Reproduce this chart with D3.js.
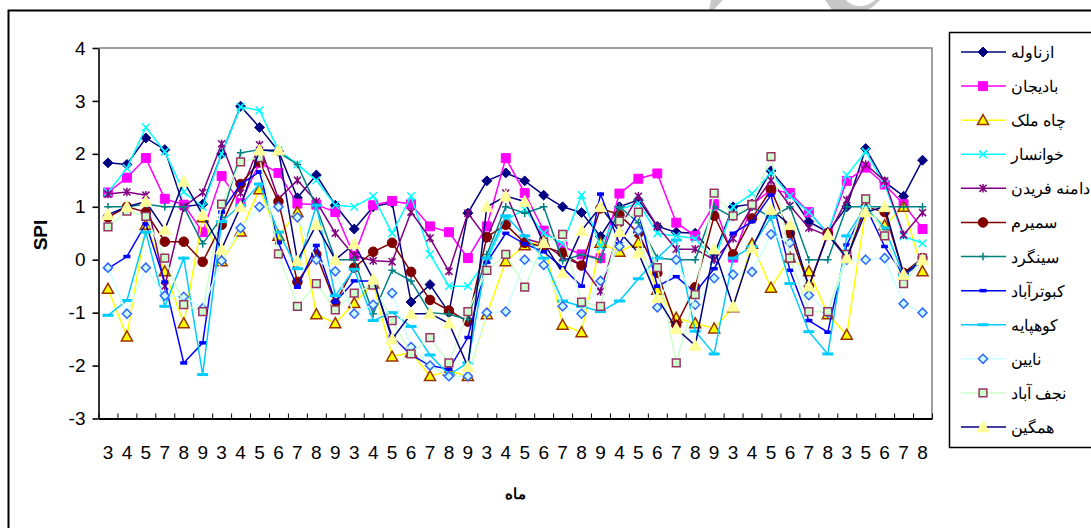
<!DOCTYPE html>
<html>
<head>
<meta charset="utf-8">
<script src="https://cdn.jsdelivr.net/npm/d3@7"></script>
<style>
  html, body { margin: 0; padding: 0; background: #fff; overflow: hidden; }
  text { font-family: "Liberation Sans", Arial, sans-serif; fill: #000; }
</style>
</head>
<body>
<div id="chart"></div>
<script>
// Tick labels (month numbers)
var months = [3,4,5,7,8,9,3,4,5,6,7,8,9,3,4,5,6,7,8,9,3,4,5,6,7,8,9,4,5,6,7,8,9,3,4,5,6,7,8,3,5,6,7,8];
var yTicks = [-3,-2,-1,0,1,2,3,4];

// Series values
var azna = [1.83,1.8,2.3,2.08,1.0,1.05,2.0,2.9,2.5,2.05,1.17,1.6,1.03,0.58,1.0,1.08,-0.8,-0.47,-1.0,0.88,1.49,1.64,1.49,1.22,1.0,0.89,0.44,1.0,1.13,0.63,0.52,0.5,0.1,1.0,1.05,1.68,1.25,0.72,0.52,1.0,2.1,1.47,1.2,1.88];
var badi = [1.27,1.55,1.92,1.15,1.04,0.52,1.58,1.07,1.83,1.64,1.06,1.04,0.9,0.07,1.03,1.11,1.05,0.63,0.52,0.03,0.63,1.92,1.26,0.55,0.25,0.1,0.03,1.25,1.53,1.63,0.7,0.45,1.05,0.04,1.04,1.32,1.26,0.9,0.5,1.49,1.74,1.42,1.05,0.58];
var chah = [-0.55,-1.45,0.66,-0.22,-1.2,0.8,-0.03,0.53,1.33,0.45,0.9,-1.03,-1.2,-0.82,-0.45,-1.83,-1.75,-2.2,-2.1,-2.2,-1.03,-0.03,0.27,0.35,-1.23,-1.37,0.32,0.15,0.32,-0.57,-1.1,-1.2,-1.3,-0.9,0.3,-0.53,0.04,-0.22,-1.03,-1.42,0.95,0.65,1.0,-0.22];
var khan = [1.27,1.73,2.5,2.04,1.28,1.0,2.0,2.89,2.82,2.07,1.8,1.5,1.03,1.0,1.2,0.5,1.2,0.1,-0.5,-0.5,0.0,0.75,0.95,0.5,0.3,1.22,0.25,0.95,1.07,0.5,0.45,0.4,-0.02,1.0,1.25,1.64,1.2,0.9,0.5,1.6,2.04,1.43,0.44,0.31];
var dame = [1.24,1.28,1.22,-0.5,1.0,1.27,2.19,1.26,2.17,1.15,1.5,1.1,0.5,0.08,-0.02,-0.04,0.9,0.41,-0.22,0.88,0.4,1.26,0.4,0.3,0.05,-0.1,-0.6,0.6,1.2,0.63,0.2,0.2,0.0,0.4,1.0,1.5,1.02,0.6,0.45,1.13,1.8,1.49,0.47,0.89];
var semi = [0.8,1.0,0.9,0.34,0.34,-0.04,0.66,1.43,1.85,1.1,-0.42,0.1,-0.82,-0.15,0.15,0.32,-0.23,-0.76,-0.96,-1.17,0.43,0.66,0.32,0.25,0.13,-0.11,0.97,0.85,0.5,-0.25,-1.23,-0.52,0.83,0.1,0.78,1.32,0.5,-0.5,0.5,0.05,1.0,0.9,-0.25,0.03];
var sing = [1.0,1.0,1.05,1.0,1.0,0.3,0.8,2.02,2.08,2.03,1.8,1.0,0.0,0.0,-1.02,-0.2,-0.4,-1.0,-1.03,-1.13,0.1,1.0,0.88,1.0,-0.02,0.1,0.0,1.0,0.7,0.03,0.0,0.0,1.0,0.8,1.0,0.8,1.0,0.0,0.0,1.0,1.0,1.0,1.0,1.0];
var kabu = [-0.17,0.06,0.68,-0.42,-1.95,-1.57,0.9,1.43,1.66,0.32,-0.52,0.27,-0.8,-0.4,-0.4,-1.45,-1.8,-2.0,-2.07,-1.47,-0.05,0.5,0.3,0.15,-0.15,-0.5,1.24,0.3,0.9,-0.5,-0.32,-0.62,-0.17,0.5,0.72,1.22,-0.2,-1.15,-1.37,0.28,1.0,0.25,-0.3,-0.03];
var kuhp = [-1.05,-0.77,0.52,-0.88,0.03,-2.17,0.72,1.03,1.43,0.52,-0.17,1.03,-0.68,-0.18,-1.15,-1.0,-1.26,-1.8,-2.17,-1.95,0.03,0.83,0.45,0.03,-0.78,-0.88,-0.98,-0.78,-0.36,0.03,0.37,-1.35,-1.78,0.03,0.25,0.8,-0.45,-1.36,-1.78,0.45,1.0,0.6,-0.3,0.03];
var nain = [-0.15,-1.02,-0.15,-0.68,-0.7,-0.92,-0.02,0.6,1.0,1.0,0.8,0.0,-0.22,-1.02,-0.85,-0.63,-1.65,-2.0,-2.2,-2.2,-1.0,-0.98,0.0,-0.1,-0.88,-1.02,-0.4,0.25,0.55,-0.9,0.0,-0.85,-0.35,-0.28,-0.23,0.48,0.32,-0.67,-1.0,0.0,0.0,0.03,-0.83,-1.0];
var najf = [0.62,0.92,0.82,0.03,-0.85,-0.98,1.05,1.85,1.93,0.11,-0.88,-0.45,-0.95,-0.63,-0.48,-1.15,-1.78,-1.47,-1.95,-0.98,-0.2,0.1,-0.52,0.33,0.48,-0.8,-0.88,0.73,0.9,-0.15,-1.95,-0.66,1.26,0.83,1.04,1.95,0.03,-0.98,-0.98,0.1,1.15,0.45,-0.45,0.03];
var hamg = [0.85,1.0,1.1,0.57,1.48,0.85,0.2,1.0,2.07,2.07,-0.02,0.66,0.0,0.3,-0.37,-1.5,-1.02,-1.02,-1.2,-2.02,1.0,1.2,1.1,0.32,-0.25,0.55,1.0,0.53,0.13,-0.72,-1.3,-1.62,0.2,-0.88,0.22,0.95,0.66,-0.5,0.47,0.03,0.9,1.0,-0.28,0.0];

// Legend names, one per series
var names = ["ازناوله","بادیجان","چاه ملک","خوانسار","دامنه فریدن","سمیرم","سینگرد","کبوترآباد","کوهپایه","نایین","نجف آباد","همگین"];

var W = 1091, H = 528;
var plot = {left: 98.5, right: 932, top: 48, bottom: 418.5};

var svg = d3.select("#chart").append("svg")
    .attr("width", W)
    .attr("height", H)
    .style("display", "block");

// Grey scraps of the page watermark, cut by the chart frame
var scraps = ["M711,0 L723,0 C719,4 716,7 714,10 L709,10 Z",
              "M825,0 L846,0 C850,4 854,6 860,6 C866,6 872,3 875,0 L880,0 L877,3 C873,7 870,9 866,10 L832,10 Z"];
svg.selectAll("path.scrap").data(scraps).enter().append("path")
    .attr("class", "scrap")
    .attr("d", function(d) { return d; })
    .attr("fill", "#c8c8c8");

// Outer chart frame runs off the right and bottom of the crop
svg.append("path")
    .attr("d", "M8.5," + H + "V10.5H" + W)
    .attr("fill", "none")
    .attr("stroke", "#000")
    .attr("stroke-width", 2);

// Scales
var x = d3.scaleBand()
    .domain(d3.range(months.length))
    .range([plot.left, plot.right]);
var xEdge = d3.scaleLinear()
    .domain([0, months.length])
    .range([plot.left, plot.right]);
var y = d3.scaleLinear()
    .domain([-3, 4])
    .range([plot.bottom, plot.top]);

// Grey plot border, top and right
svg.append("path")
    .attr("d", "M" + plot.left + "," + plot.top + "H" + plot.right + "V" + plot.bottom)
    .attr("fill", "none")
    .attr("stroke", "#808080")
    .attr("stroke-width", 1.5);

// Y axis
var yAxis = svg.append("g")
    .attr("transform", "translate(" + plot.left + ",0)")
    .call(d3.axisLeft(y).tickValues(yTicks).tickSize(6).tickPadding(7).tickSizeOuter(0)
        .tickFormat(function(d) { return String(d); }));
yAxis.selectAll("text").style("font-size", "19px");
yAxis.select(".domain").attr("stroke-width", 1.6);
yAxis.selectAll("line").attr("stroke-width", 1.6);

// X axis, ticks sit between categories and point up
var xTickAxis = svg.append("g")
    .attr("transform", "translate(0," + plot.bottom + ")")
    .call(d3.axisBottom(xEdge).tickValues(d3.range(months.length + 1)).tickSize(-5).tickFormat("").tickSizeOuter(0));
xTickAxis.select(".domain").attr("stroke-width", 2);
xTickAxis.selectAll("line").attr("stroke-width", 1);

var xLabels = svg.append("g")
    .attr("transform", "translate(0," + plot.bottom + ")")
    .call(d3.axisBottom(x).tickSize(0).tickPadding(27).tickFormat(function(i) { return months[i]; }));
xLabels.select(".domain").remove();
xLabels.selectAll("text").style("font-size", "19px");

// Axis titles
svg.append("text")
    .attr("transform", "translate(47,235) rotate(-90)")
    .attr("text-anchor", "middle")
    .style("font-size", "19px")
    .style("font-weight", "bold")
    .text("SPI");
svg.append("text")
    .attr("x", 515)
    .attr("y", 499)
    .attr("text-anchor", "middle")
    .style("font-size", "15px")
    .style("font-weight", "bold")
    .text("ماه");

// Marker drawers, each takes a g placed at the point
function symbolMark(type, size, fill, stroke, sw) {
    return function(g) {
        g.append("path")
            .attr("d", d3.symbol().type(type).size(size)())
            .attr("fill", fill)
            .attr("stroke", stroke)
            .attr("stroke-width", sw);
    };
}
function dashMark(w, h, fill) {
    return function(g) {
        g.append("rect")
            .attr("x", -w / 2)
            .attr("y", -h / 2)
            .attr("width", w)
            .attr("height", h)
            .attr("fill", fill);
    };
}
// Excel style triangle, centred on the point
var triangle = {draw: function(ctx, size) {
    var r = Math.sqrt(size) * 0.62;
    ctx.moveTo(0, -r);
    ctx.lineTo(r, r * 0.8);
    ctx.lineTo(-r, r * 0.8);
    ctx.closePath();
}};
var squareSym = {draw: function(ctx, size) {
    var r = Math.sqrt(size) / 2;
    ctx.rect(-r, -r, r * 2, r * 2);
}};
var diamond = {draw: function(ctx, size) {
    var r = Math.sqrt(size) * 0.7;
    ctx.moveTo(0, -r); ctx.lineTo(r, 0); ctx.lineTo(0, r); ctx.lineTo(-r, 0); ctx.closePath();
}};
var cross = {draw: function(ctx, size) {
    var r = Math.sqrt(size) / 2;
    ctx.moveTo(-r, -r); ctx.lineTo(r, r); ctx.moveTo(r, -r); ctx.lineTo(-r, r);
}};
var plus = {draw: function(ctx, size) {
    var r = Math.sqrt(size) * 0.6;
    ctx.moveTo(-r, 0); ctx.lineTo(r, 0); ctx.moveTo(0, -r); ctx.lineTo(0, r);
}};
var star = {draw: function(ctx, size) {
    var r = Math.sqrt(size) / 2;
    ctx.moveTo(-r, -r); ctx.lineTo(r, r); ctx.moveTo(r, -r); ctx.lineTo(-r, r);
    ctx.moveTo(0, -r * 1.2); ctx.lineTo(0, r * 1.2);
}};

var seriesValues = [azna, badi, chah, khan, dame, semi, sing, kabu, kuhp, nain, najf, hamg];
var lineColors = ["#000080","#ff00ff","#ffff00","#00ffff","#800080","#800000","#008080","#0000ff","#00ccff","#ccffff","#ccffcc","#000080"];
var markers = [
    symbolMark(diamond, 50, "#000080", "#000080", 1),
    symbolMark(squareSym, 80, "#ff00ff", "#ff00ff", 1),
    symbolMark(triangle, 80, "#ffff00", "#993300", 1.5),
    symbolMark(cross, 60, "none", "#00ffff", 1.5),
    symbolMark(star, 50, "none", "#800080", 1.5),
    symbolMark(d3.symbolCircle, 72, "#800000", "#800000", 1),
    symbolMark(plus, 40, "none", "#008080", 1.5),
    dashMark(7, 3.5, "#0000ff"),
    dashMark(11, 3, "#00ccff"),
    symbolMark(diamond, 42, "#ccffff", "#3366ff", 1.5),
    symbolMark(squareSym, 60, "#ccffcc", "#993366", 1.5),
    symbolMark(triangle, 95, "#ffff99", "#ffff99", 1)
];

var line = d3.line()
    .x(function(d, i) { return x(i) + x.bandwidth() / 2; })
    .y(function(d) { return y(d); });

// Draw the series, later ones on top
seriesValues.forEach(function(values, s) {
    var g = svg.append("g");
    g.append("path")
        .datum(values)
        .attr("d", line)
        .attr("fill", "none")
        .attr("stroke", lineColors[s])
        .attr("stroke-width", 1.5);
    g.selectAll("g.pt")
        .data(values)
        .enter().append("g")
        .attr("class", "pt")
        .attr("transform", function(d, i) { return "translate(" + (x(i) + x.bandwidth() / 2) + "," + y(d) + ")"; })
        .each(function() { markers[s](d3.select(this)); });
});

// Legend
var legend = svg.append("g");
legend.append("path")
    .attr("d", "M" + W + ",32.5H949.5V447.5H" + W)
    .attr("fill", "#fff")
    .attr("stroke", "#000")
    .attr("stroke-width", 1.5);

var legendY = d3.scalePoint()
    .domain(d3.range(names.length))
    .range([52, 427]);

names.forEach(function(name, s) {
    var row = legend.append("g")
        .attr("transform", "translate(0," + legendY(s) + ")");
    row.append("line")
        .attr("x1", 961)
        .attr("x2", 1006)
        .attr("stroke", lineColors[s])
        .attr("stroke-width", 1.5);
    var m = row.append("g").attr("transform", "translate(983,0)");
    markers[s](m);
    row.append("text")
        .attr("x", 1011)
        .attr("y", 6)
        .style("font-size", "15.5px")
        .text(name);
});
</script>
</body>
</html>
